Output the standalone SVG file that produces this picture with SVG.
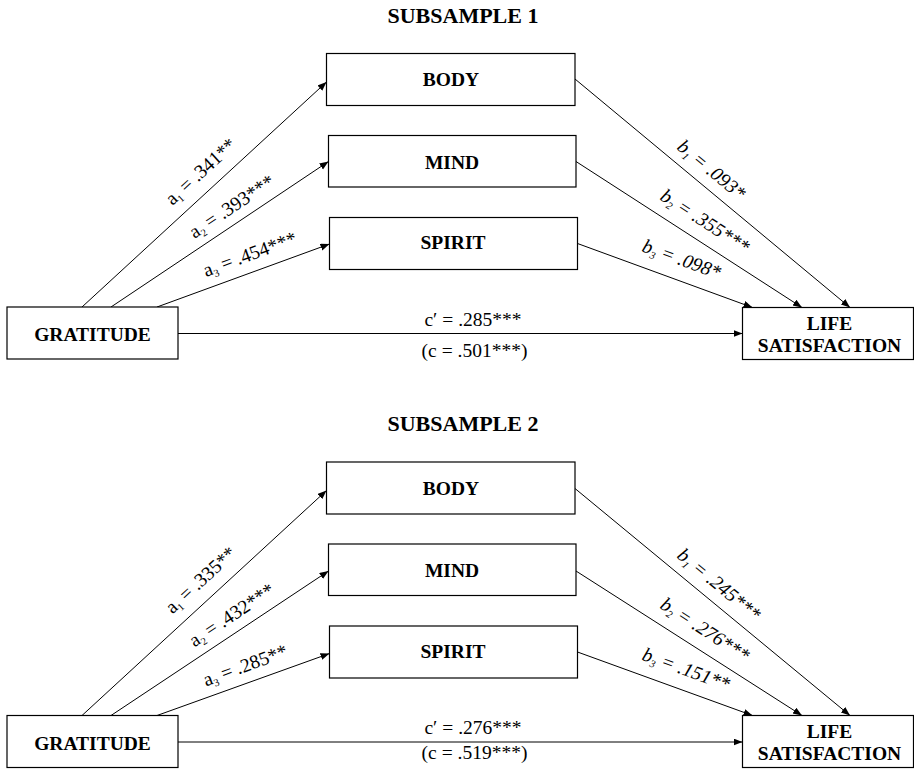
<svg xmlns="http://www.w3.org/2000/svg" width="914" height="770" viewBox="0 0 914 770">
<defs>
<marker id="ah" markerWidth="10" markerHeight="8" refX="9" refY="3.5" orient="auto" markerUnits="userSpaceOnUse"><path d="M0,0 L9,3.5 L0,7 z" fill="#000"/></marker>
</defs>
<style>
.box{fill:#fff;stroke:#000;stroke-width:1.2}
.node{font-family:"Liberation Serif","Times New Roman",serif;font-weight:bold;font-size:19.5px;text-anchor:middle;fill:#000}
.title{font-family:"Liberation Serif","Times New Roman",serif;font-weight:bold;font-size:22px;text-anchor:middle;fill:#000}
.edge{fill:none;stroke:#000;stroke-width:1;marker-end:url(#ah)}
.lbl{font-family:"Liberation Serif","Times New Roman",serif;font-size:19.5px;fill:#000}
.it{font-style:italic}
.sub{font-size:10.5px}
.mid{text-anchor:middle}
</style>
<rect width="914" height="770" fill="#fff"/>

<!-- SUBSAMPLE 1 -->
<g id="subsample1">
<text class="title" x="463" y="23">SUBSAMPLE 1</text>
<g id="s1-connectors">
<line class="edge" x1="82" y1="307" x2="326.5" y2="82"/>
<line class="edge" x1="111" y1="307" x2="328.5" y2="161.5"/>
<line class="edge" x1="157" y1="307" x2="329.5" y2="244"/>
<line class="edge" x1="575" y1="79" x2="850" y2="307.5"/>
<line class="edge" x1="576" y1="161.5" x2="802" y2="307.5"/>
<line class="edge" x1="577.5" y1="243.5" x2="752.5" y2="307.5"/>
<line class="edge" x1="178" y1="333.5" x2="742.5" y2="333.5"/>
<text class="lbl" transform="translate(172.5,206) rotate(-42.56)">a<tspan class="sub" dy="3.5">1</tspan><tspan dy="-3.5"> = .341**</tspan></text>
<text class="lbl" transform="translate(194.5,239) rotate(-33.78)">a<tspan class="sub" dy="3.5">2</tspan><tspan dy="-3.5"> = .393***</tspan></text>
<text class="lbl" transform="translate(206,277) rotate(-20.06)">a<tspan class="sub" dy="3.5">3</tspan><tspan dy="-3.5"> = .454***</tspan></text>
<text class="lbl it" transform="translate(676,148.5) rotate(39.7)">b<tspan class="sub" dy="3.5">1</tspan><tspan dy="-3.5"> = .093*</tspan></text>
<text class="lbl it" transform="translate(659,199) rotate(32.86)">b<tspan class="sub" dy="3.5">2</tspan><tspan dy="-3.5"> = .355***</tspan></text>
<text class="lbl it" transform="translate(641,251) rotate(20.1)">b<tspan class="sub" dy="3.5">3</tspan><tspan dy="-3.5"> = .098*</tspan></text>
<text class="lbl mid" x="473" y="326">c′ = .285***</text>
<text class="lbl mid" x="474.5" y="357">(c = .501***)</text>
</g>
<g id="s1-body"><rect class="box" x="326.5" y="53.5" width="248.5" height="52"/><text class="node" x="451" y="86">BODY</text></g>
<g id="s1-mind"><rect class="box" x="328.5" y="135.5" width="247.5" height="51.5"/><text class="node" x="452" y="168.5">MIND</text></g>
<g id="s1-spirit"><rect class="box" x="329.5" y="217.5" width="248" height="52"/><text class="node" x="453" y="249">SPIRIT</text></g>
<g id="s1-gratitude"><rect class="box" x="7" y="307" width="171" height="52"/><text class="node" x="92.5" y="341">GRATITUDE</text></g>
<g id="s1-life"><rect class="box" x="742.5" y="307.5" width="171" height="52"/><text class="node" x="829.5" y="329.5">LIFE</text><text class="node" x="829.5" y="351.5">SATISFACTION</text></g>
</g>

<!-- SUBSAMPLE 2 -->
<g id="subsample2" transform="translate(0,408.5)">
<text class="title" x="463" y="22">SUBSAMPLE 2</text>
<g id="s2-connectors">
<line class="edge" x1="82" y1="307" x2="326.5" y2="82"/>
<line class="edge" x1="111" y1="307" x2="328.5" y2="162.5"/>
<line class="edge" x1="157" y1="307" x2="329.5" y2="245"/>
<line class="edge" x1="575" y1="80" x2="850" y2="307"/>
<line class="edge" x1="576" y1="162.5" x2="802" y2="307"/>
<line class="edge" x1="577.5" y1="243.5" x2="752.5" y2="307"/>
<line class="edge" x1="178" y1="333.5" x2="742.5" y2="333.5"/>
<text class="lbl" transform="translate(172.5,206) rotate(-42.56)">a<tspan class="sub" dy="3.5">1</tspan><tspan dy="-3.5"> = .335**</tspan></text>
<text class="lbl" transform="translate(194.5,239) rotate(-33.78)">a<tspan class="sub" dy="3.5">2</tspan><tspan dy="-3.5"> = .432***</tspan></text>
<text class="lbl" transform="translate(206,278) rotate(-20.06)">a<tspan class="sub" dy="3.5">3</tspan><tspan dy="-3.5"> = .285**</tspan></text>
<text class="lbl it" transform="translate(676,148.5) rotate(39.7)">b<tspan class="sub" dy="3.5">1</tspan><tspan dy="-3.5"> = .245***</tspan></text>
<text class="lbl it" transform="translate(659,199) rotate(32.86)">b<tspan class="sub" dy="3.5">2</tspan><tspan dy="-3.5"> = .276***</tspan></text>
<text class="lbl it" transform="translate(641,251) rotate(20.1)">b<tspan class="sub" dy="3.5">3</tspan><tspan dy="-3.5"> = .151**</tspan></text>
<text class="lbl mid" x="473" y="325">c′ = .276***</text>
<text class="lbl mid" x="474.5" y="350.5">(c = .519***)</text>
</g>
<g id="s2-body"><rect class="box" x="326.5" y="53.5" width="248.5" height="52"/><text class="node" x="451" y="86">BODY</text></g>
<g id="s2-mind"><rect class="box" x="328.5" y="135.5" width="247.5" height="51.5"/><text class="node" x="452" y="168.5">MIND</text></g>
<g id="s2-spirit"><rect class="box" x="329.5" y="217.5" width="248" height="52"/><text class="node" x="453" y="249">SPIRIT</text></g>
<g id="s2-gratitude"><rect class="box" x="7" y="307" width="171" height="52"/><text class="node" x="92.5" y="341">GRATITUDE</text></g>
<g id="s2-life"><rect class="box" x="742.5" y="307" width="171" height="52"/><text class="node" x="829.5" y="329">LIFE</text><text class="node" x="829.5" y="351">SATISFACTION</text></g>
</g>
</svg>
